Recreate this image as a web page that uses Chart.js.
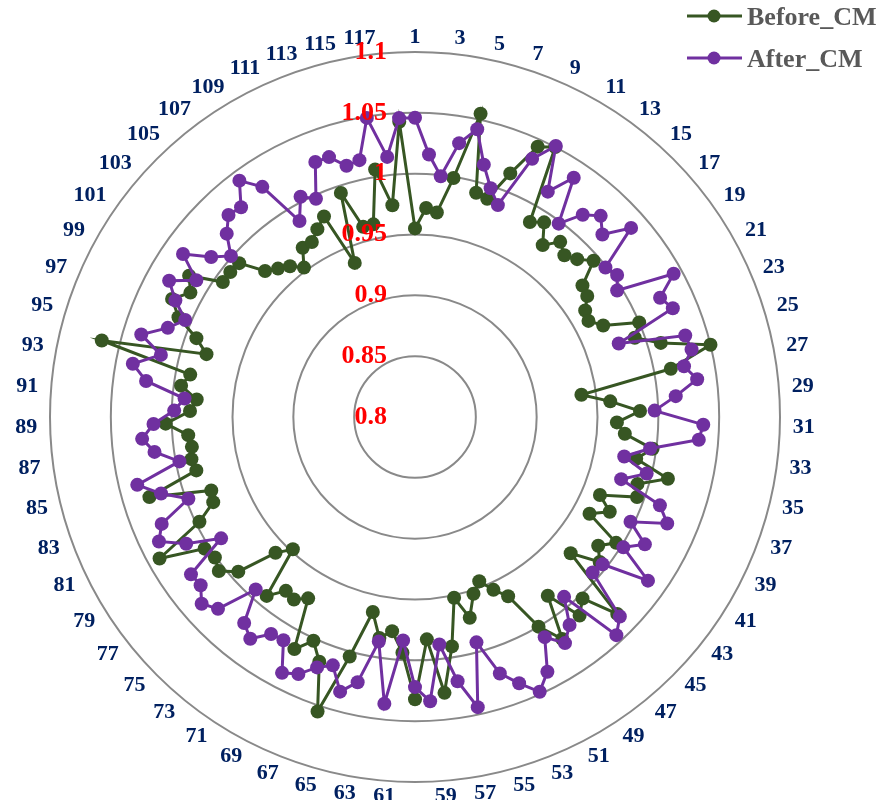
<!DOCTYPE html>
<html>
<head>
<meta charset="utf-8">
<title>Before_CM / After_CM</title>
<script src="https://cdn.jsdelivr.net/npm/chart.js@4.4.0/dist/chart.umd.min.js"></script>
<style>
    html, body { margin: 0; padding: 0; background: #ffffff; }
    #chart_container { position: relative; width: 882px; height: 800px; }
</style>
</head>
<body>
<div id="chart_container"><canvas id="voltage_canvas"></canvas></div>
<script>
// bus numbers 1..118
var busNumbers = [];
for (var n = 1; n <= 118; n++) {
    busNumbers.push(String(n));
}

var beforeCM = [
    0.955, 0.972, 0.969, 0.999, 1.055, 0.991, 0.989, 1.015, 1.044, 1.050,
    0.986, 0.992, 0.976, 0.987, 0.981, 0.986, 0.995, 0.975, 0.973, 0.965,
    0.963, 0.972, 1.000, 0.992, 1.011, 1.050, 1.014, 0.938, 0.961, 0.985,
    0.966, 0.973, 0.997, 0.985, 1.014, 0.991, 0.994, 0.965, 0.978, 0.964,
    0.995, 0.984, 0.993, 0.970, 1.032, 1.003, 1.012, 0.983, 1.019, 1.000,
    0.966, 0.956, 0.945, 0.953, 0.971, 0.952, 0.991, 1.028, 0.983, 1.032,
    0.994, 0.977, 0.984, 0.964, 1.004, 1.055, 1.016, 1.002, 1.015, 0.973,
    0.980, 0.978, 0.991, 0.948, 0.960, 0.993, 1.005, 1.001, 1.004, 1.040,
    0.997, 0.980, 0.978, 1.028, 0.985, 0.987, 0.985, 0.987, 1.005, 0.985,
    0.980, 0.994, 0.988, 1.065, 0.979, 0.991, 1.011, 1.022, 1.011, 1.019,
    0.993, 0.993, 0.992, 0.972, 0.966, 0.961, 0.953, 0.967, 0.967, 0.974,
    0.981, 0.936, 0.994, 0.962, 0.962, 1.006, 0.975, 1.043
];

var afterCM = [
    1.046, 1.016, 0.999, 1.028, 1.042, 1.015, 0.998, 0.987, 1.033, 1.051,
    1.015, 1.036, 0.998, 1.016, 1.025, 1.015, 1.036, 0.999, 1.003, 0.996,
    1.043, 1.024, 1.030, 0.978, 1.032, 1.034, 1.025, 1.034, 1.015, 0.997,
    1.037, 1.034, 0.995, 0.975, 0.996, 0.977, 1.014, 1.025, 0.997, 1.016,
    1.002, 1.034, 0.996, 0.994, 1.035, 1.044, 0.992, 1.013, 1.023, 1.010,
    1.036, 1.048, 1.035, 1.022, 0.992, 1.044, 1.020, 0.988, 1.034, 1.022,
    0.984, 1.037, 0.987, 1.023, 1.034, 1.015, 1.021, 1.032, 1.037, 1.013,
    1.014, 1.027, 1.020, 0.993, 1.026, 1.033, 1.024, 1.025, 0.988, 1.015,
    1.034, 1.026, 0.998, 1.018, 1.035, 0.997, 1.016, 1.025, 1.015, 0.998,
    0.990, 1.023, 1.036, 1.015, 1.035, 1.016, 1.005, 1.019, 1.031, 1.012,
    1.033, 1.013, 1.001, 1.016, 1.026, 1.024, 1.042, 1.027, 0.987, 1.004,
    0.997, 1.025, 1.025, 1.014, 1.016, 1.049, 1.015, 1.046
];

var radialTicks = [0.8, 0.85, 0.9, 0.95, 1, 1.05, 1.1];

var serifFont = '"Liberation Serif", "Times New Roman", serif';

// bus numbers round the rim (every second one) and the red value labels
var ringLabels = {
    id: "ringLabels",
    afterDatasetsDraw: function (chart) {
        var scale = chart.scales.r;
        var ctx = chart.ctx;
        ctx.save();
        ctx.font = "bold 22px " + serifFont;
        ctx.fillStyle = "#002060";
        ctx.textBaseline = "middle";
        chart.data.labels.forEach(function (label, i) {
            if (i % 2 !== 0) {
                return;
            }
            var angle = scale.getIndexAngle(i);
            var s = Math.sin(angle);
            var c = Math.cos(angle);
            var pos = scale.getPointPosition(i, scale.drawingArea + 7 + 6 * Math.abs(s));
            if (Math.abs(s) < 0.02) {
                ctx.textAlign = "center";
            } else {
                ctx.textAlign = s > 0 ? "left" : "right";
            }
            ctx.fillText(label, pos.x, pos.y - c * 8);
        });

        ctx.font = "bold 26px " + serifFont;
        ctx.fillStyle = "#ff0000";
        ctx.textAlign = "right";
        radialTicks.forEach(function (v) {
            ctx.fillText(String(v), scale.xCenter - 28, scale.yCenter - scale.getDistanceFromCenterForValue(v));
        });
        ctx.restore();
    }
};

// legend in the top right corner: line with a marker, then the name
var cornerLegend = {
    id: "cornerLegend",
    afterDraw: function (chart) {
        var ctx = chart.ctx;
        ctx.save();
        chart.data.datasets.forEach(function (ds, i) {
            var y = 16 + i * 42;
            ctx.strokeStyle = ds.borderColor;
            ctx.lineWidth = 3;
            ctx.beginPath();
            ctx.moveTo(687, y);
            ctx.lineTo(742, y);
            ctx.stroke();
            ctx.fillStyle = ds.borderColor;
            ctx.beginPath();
            ctx.arc(714, y, 6.5, 0, 2 * Math.PI);
            ctx.fill();
            ctx.fillStyle = "#595959";
            ctx.font = "bold 26px " + serifFont;
            ctx.textAlign = "left";
            ctx.textBaseline = "alphabetic";
            ctx.fillText(ds.label, 747, y + 9);
        });
        ctx.restore();
    }
};

var chart = new Chart(document.getElementById("voltage_canvas"), {
    type: "radar",
    data: {
        labels: busNumbers,
        datasets: [{
            label: "Before_CM",
            data: beforeCM,
            borderColor: "#375623",
            backgroundColor: "#375623",
            pointBackgroundColor: "#375623",
            pointBorderWidth: 0,
            pointRadius: 7,
            borderWidth: 3,
            fill: false,
            order: 2
        }, {
            label: "After_CM",
            data: afterCM,
            borderColor: "#7030a0",
            backgroundColor: "#7030a0",
            pointBackgroundColor: "#7030a0",
            pointBorderWidth: 0,
            pointRadius: 7,
            borderWidth: 3,
            fill: false,
            order: 1
        }]
    },
    options: {
        responsive: true,
        maintainAspectRatio: false,
        animation: false,
        layout: { padding: 0 },
        elements: { line: { tension: 0 } },
        scales: {
            r: {
                min: 0.8,
                max: 1.1,
                ticks: { display: false, stepSize: 0.05 },
                grid: { circular: true, color: "#898989", lineWidth: 2 },
                angleLines: { display: false },
                pointLabels: { display: false },
                afterFit: function (scale) {
                    scale.xCenter = 415;
                    scale.yCenter = 417;
                    scale.drawingArea = 365;
                }
            }
        },
        plugins: {
            legend: { display: false },
            tooltip: { enabled: false }
        }
    },
    plugins: [ringLabels, cornerLegend]
});
</script>
</body>
</html>
